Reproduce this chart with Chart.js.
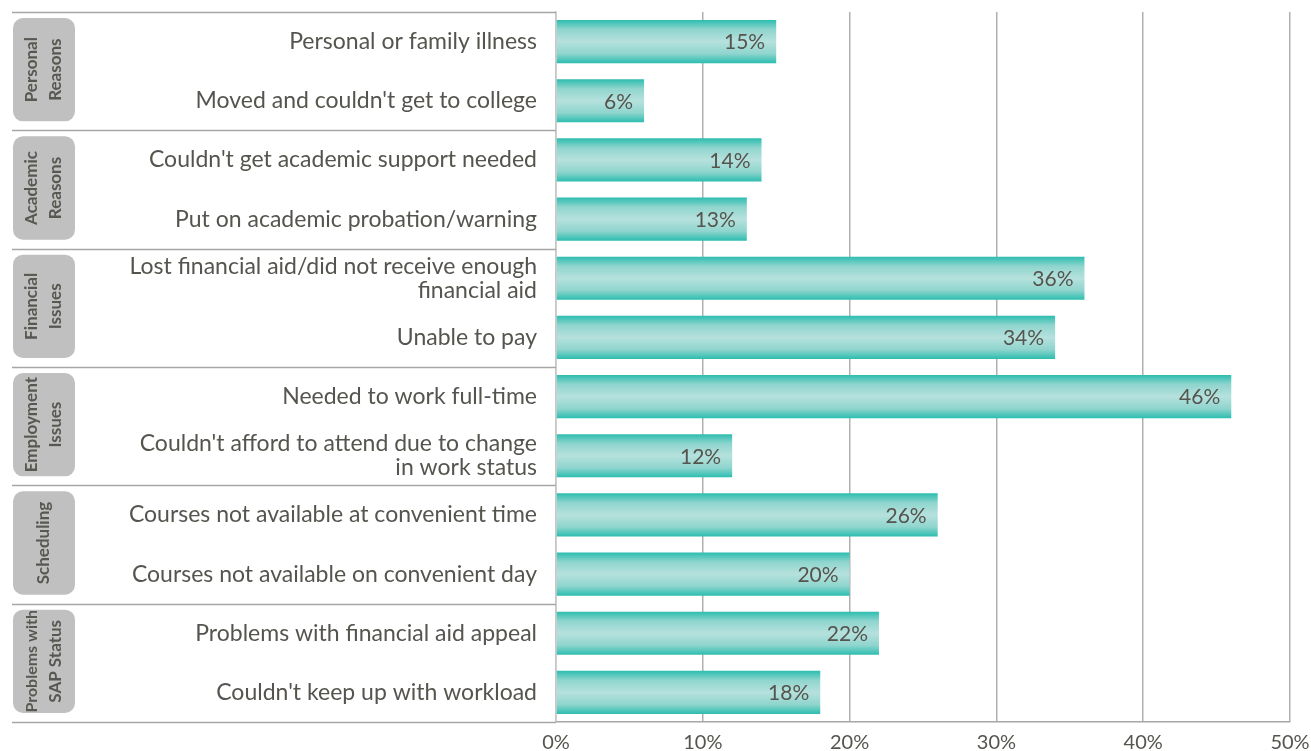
<!DOCTYPE html>
<html>
<head>
<meta charset="utf-8">
<script src="https://cdn.jsdelivr.net/npm/chart.js@4"></script>
<style>
  html, body { margin: 0; padding: 0; background: #fff; }
  canvas { display: block; }
</style>
</head>
<body>
<canvas id="chart" width="1311" height="751"></canvas>
<script>
// reasons for not returning
const reasons = [
  "Personal or family illness",
  "Moved and couldn't get to college",
  "Couldn't get academic support needed",
  "Put on academic probation/warning",
  ["Lost financial aid/did not receive enough", "financial aid"],
  "Unable to pay",
  "Needed to work full-time",
  ["Couldn't afford to attend due to change", "in work status"],
  "Courses not available at convenient time",
  "Courses not available on convenient day",
  "Problems with financial aid appeal",
  "Couldn't keep up with workload"
];
const percents = [15, 6, 14, 13, 36, 34, 46, 12, 26, 20, 22, 18];
const groupNames = [
  ["Personal", "Reasons"],
  ["Academic", "Reasons"],
  ["Financial", "Issues"],
  ["Employment", "Issues"],
  ["Scheduling"],
  ["Problems with", "SAP Status"]
];
const groupSizes = [2, 2, 2, 2, 2, 2];
const xTicks = [0, 10, 20, 30, 40, 50];

const FONT = "Lato, 'Open Sans', sans-serif";
const textColor = "#55544e";
const BAR_PCT = 0.73;

// teal gradient, dark at the edges, light in the middle of each bar
function barFill(ctx) {
  const chart = ctx.chart;
  const y = chart.scales.y;
  if (!y || !chart.chartArea) return "#7fd0c8";
  const cy = y.getPixelForValue(ctx.dataIndex);
  const h = (y.height / reasons.length) * BAR_PCT;
  const g = chart.ctx.createLinearGradient(0, cy - h / 2, 0, cy + h / 2);
  g.addColorStop(0, "#2cbdaf");
  g.addColorStop(0.22, "#8fd5ce");
  g.addColorStop(0.5, "#b6e1dd");
  g.addColorStop(0.78, "#8fd5ce");
  g.addColorStop(1, "#2cbdaf");
  return g;
}

const valueLabels = {
  id: "valueLabels",
  afterDatasetsDraw(chart) {
    const { ctx } = chart;
    const meta = chart.getDatasetMeta(0);
    ctx.save();
    ctx.font = "21px " + FONT;
    ctx.fillStyle = textColor;
    ctx.textAlign = "right";
    ctx.textBaseline = "middle";
    meta.data.forEach((bar, i) => {
      ctx.fillText(percents[i] + "%", bar.x - 11, bar.y + 1);
    });
    ctx.restore();
  }
};

const groupBoxes = {
  id: "groupBoxes",
  afterDraw(chart) {
    const { ctx, chartArea } = chart;
    const y = chart.scales.y;
    const left = 12, right = chartArea.left;
    // boundaries between groups
    const bounds = [chartArea.top];
    let idx = 0;
    groupSizes.forEach(n => {
      idx += n;
      if (idx >= reasons.length) bounds.push(chartArea.bottom);
      else bounds.push((y.getPixelForValue(idx - 1) + y.getPixelForValue(idx)) / 2);
    });
    ctx.save();
    ctx.strokeStyle = "#a6a6a6";
    ctx.lineWidth = 1.5;
    bounds.forEach(b => {
      ctx.beginPath();
      ctx.moveTo(left, Math.round(b) + 0.5);
      ctx.lineTo(right, Math.round(b) + 0.5);
      ctx.stroke();
    });
    // grey rounded boxes with rotated group names
    for (let g = 0; g < groupNames.length; g++) {
      const top = bounds[g] + 6, bot = bounds[g + 1] - 9;
      const bx = 13, bw = 62;
      ctx.fillStyle = "#c0c0c0";
      ctx.beginPath();
      ctx.roundRect(bx, top, bw, bot - top, 10);
      ctx.fill();
      const lines = groupNames[g];
      ctx.save();
      ctx.translate(bx + bw / 2, (top + bot) / 2);
      ctx.rotate(-Math.PI / 2);
      ctx.fillStyle = "#585853";
      ctx.textAlign = "center";
      ctx.textBaseline = "middle";
      const lh = 24;
      lines.forEach((t, k) => {
        let size = 17;
        ctx.font = "bold " + size + "px " + FONT;
        while (ctx.measureText(t).width > (bot - top) + 2 && size > 10) {
          size -= 0.5;
          ctx.font = "bold " + size + "px " + FONT;
        }
        const off = (k - (lines.length - 1) / 2) * lh;
        ctx.fillText(t, 0, off);
      });
      ctx.restore();
    }
    ctx.restore();
  }
};

new Chart(document.getElementById("chart"), {
  type: "bar",
  data: {
    labels: reasons,
    datasets: [{
      data: percents,
      backgroundColor: barFill,
      borderWidth: 0,
      barPercentage: BAR_PCT,
      categoryPercentage: 1
    }]
  },
  options: {
    indexAxis: "y",
    responsive: false,
    animation: false,
    layout: { padding: { top: 12, right: 21, left: 0, bottom: 0 } },
    plugins: { legend: { display: false }, tooltip: { enabled: false } },
    scales: {
      x: {
        min: 0, max: 50,
        afterBuildTicks: (s) => { s.ticks = xTicks.map(v => ({ value: v })); },
        afterFit: (s) => { s.height = 29; s.paddingLeft = 0; s.paddingRight = 0; },
        grid: { color: "#b0b0b0", lineWidth: 1.5, drawTicks: false },
        border: { color: "#a6a6a6", width: 1.5 },
        ticks: {
          color: textColor,
          font: { family: FONT, size: 20 },
          padding: 9,
          maxRotation: 0,
          callback: (v) => v + "%"
        }
      },
      y: {
        afterFit: (s) => { s.width = 556; s.paddingTop = 0; s.paddingBottom = 0; },
        grid: { display: false, drawTicks: false },
        border: { color: "#c8c8c8", width: 1.5 },
        ticks: {
          color: textColor,
          font: { family: FONT, size: 23, lineHeight: 1.04 },
          padding: 19
        }
      }
    }
  },
  plugins: [valueLabels, groupBoxes]
});
</script>
</body>
</html>
